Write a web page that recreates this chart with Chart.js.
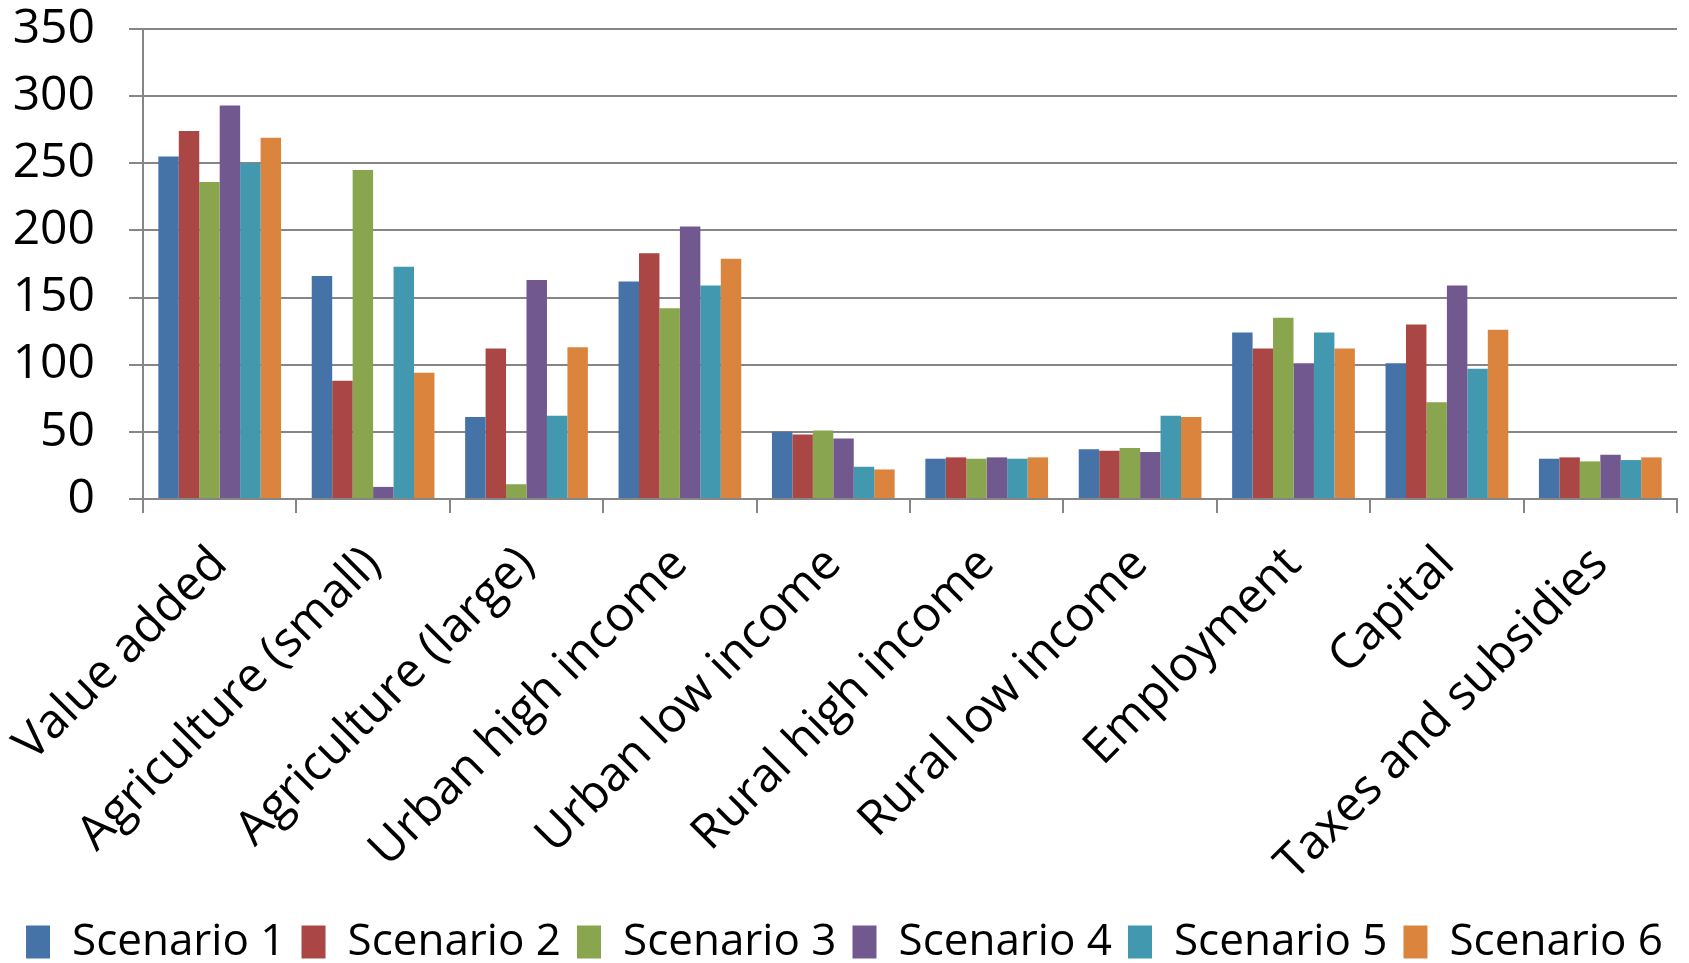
<!DOCTYPE html>
<html>
<head>
<meta charset="utf-8">
<script src="https://cdn.jsdelivr.net/npm/chart.js@4.4.1/dist/chart.umd.min.js"></script>
<style>
  html, body { margin: 0; padding: 0; background: #fff; }
  #wrap { width: 1689px; height: 963px; }
</style>
</head>
<body>
<div id="wrap"><canvas id="scenarioChart"></canvas></div>
<script>
// Categories and series values
const categories = [
    'Value added', 'Agriculture (small)', 'Agriculture (large)', 'Urban high income',
    'Urban low income', 'Rural high income', 'Rural low income', 'Employment',
    'Capital', 'Taxes and subsidies'
];
const scenario1 = [255, 166, 61, 162, 50, 30, 37, 124, 101, 30];
const scenario2 = [274, 88, 112, 183, 48, 31, 36, 112, 130, 31];
const scenario3 = [236, 245, 11, 142, 51, 30, 38, 135, 72, 28];
const scenario4 = [293, 9, 163, 203, 45, 31, 35, 101, 159, 33];
const scenario5 = [250, 173, 62, 159, 24, 30, 62, 124, 97, 29];
const scenario6 = [269, 94, 113, 179, 22, 31, 61, 112, 126, 31];
const yTicks = [0, 50, 100, 150, 200, 250, 300, 350];

const seriesNames = ['Scenario 1', 'Scenario 2', 'Scenario 3', 'Scenario 4', 'Scenario 5', 'Scenario 6'];
const seriesColors = ['#4572A7', '#AA4643', '#89A54E', '#71588F', '#4198AF', '#DB843D'];
const seriesValues = [scenario1, scenario2, scenario3, scenario4, scenario5, scenario6];

const gridGray = '#868686';
const font = "'Open Sans', sans-serif";

new Chart(document.getElementById('scenarioChart'), {
    type: 'bar',
    data: {
        labels: categories,
        datasets: seriesNames.map((name, i) => ({
            label: name,
            data: seriesValues[i],
            backgroundColor: seriesColors[i],
            borderWidth: 0,
            categoryPercentage: 0.8,
            barPercentage: 1.0,
        })),
    },
    options: {
        responsive: true,
        maintainAspectRatio: false,
        animation: false,
        layout: { padding: { top: 0, right: 0, left: 0, bottom: -11 } },
        plugins: {
            tooltip: { enabled: false },
            legend: {
                position: 'bottom',
                labels: {
                    color: '#000',
                    font: { family: font, size: 44 },
                    boxWidth: 24,
                    boxHeight: 33,
                    padding: 16,
                },
            },
        },
        scales: {
            x: {
                afterFit: (scale) => {
                    scale.height = 405;
                    scale.paddingLeft = 0;
                    scale.paddingRight = 12;
                },
                grid: {
                    display: true,
                    drawOnChartArea: false,
                    drawTicks: true,
                    tickLength: 14,
                    color: gridGray,
                    lineWidth: 2,
                },
                border: { color: gridGray, width: 2 },
                ticks: {
                    color: '#000',
                    font: { family: font, size: 48 },
                    minRotation: 45,
                    maxRotation: 45,
                    padding: 23,
                    autoSkip: false,
                },
            },
            y: {
                min: 0,
                max: 350,
                afterBuildTicks: (scale) => {
                    scale.ticks = yTicks.map(v => ({ value: v }));
                },
                afterFit: (scale) => {
                    scale.width = 143;
                    scale.paddingTop = 29;
                    scale.paddingBottom = 0;
                },
                grid: {
                    color: gridGray,
                    lineWidth: 2,
                    tickLength: 14,
                },
                border: { color: gridGray, width: 2 },
                ticks: {
                    color: '#000',
                    font: { family: font, size: 48 },
                    padding: 34,
                    autoSkip: false,
                },
            },
        },
    },
});
</script>
</body>
</html>
